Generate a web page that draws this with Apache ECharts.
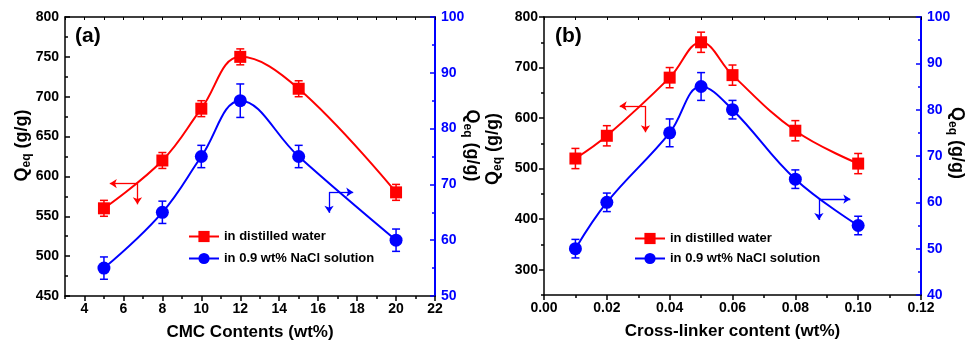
<!DOCTYPE html>
<html>
<head>
<meta charset="utf-8">
<script src="https://cdn.jsdelivr.net/npm/echarts@6/dist/echarts.min.js"></script>
<style>
  html, body { margin: 0; padding: 0; background: #fff; }
  #chart { width: 968px; height: 346px; }
</style>
</head>
<body>
<div id="chart"></div>
<script>
// (a) CMC content series
const cmcX = [5, 8, 10, 12, 15, 20];
const cmcWater = [560, 620, 685, 750, 710, 580];
const cmcWaterErr = [10, 10, 10, 10, 10, 10];
const cmcSaline = [55, 65, 75, 85, 75, 60];
const cmcSalineErr = [2, 2, 2, 3, 2, 2];
const cmcTicks = [4, 6, 8, 10, 12, 14, 16, 18, 20, 22];

// (b) cross-linker series
const clX = [0.01, 0.02, 0.04, 0.05, 0.06, 0.08, 0.10];
const clWater = [520, 565, 680, 750, 685, 575, 510];
const clWaterErr = [20, 20, 20, 20, 20, 20, 20];
const clSaline = [50, 60, 75, 85, 80, 65, 55];
const clSalineErr = [2, 2, 3, 3, 2, 2, 2];
const clLeftTicks = [300, 400, 500, 600, 700, 800];

// axis pointer arrows: [x0, y0, xEnd (horizontal), yEnd (vertical)]
const cmcWaterArrow = [6.72, 591, 5.3, 565];
const cmcSalineArrow = [16.56, 68.6, 17.8, 64.9];
const clWaterArrow = [0.0323, 624, 0.0241, 572];
const clSalineArrow = [0.0875, 60.7, 0.0975, 56.2];

const names = ['in distilled water', 'in 0.9 wt% NaCl solution'];
const RED = '#ff0000';
const BLUE = '#0000ff';
const FONT = '"Liberation Sans", Arial, Helvetica, sans-serif';

const pts = (xs, ys) => xs.map((x, i) => [x, ys[i]]);
const bars = (xs, ys, es) => xs.map((x, i) => [x, ys[i] - es[i], ys[i] + es[i]]);

function errorBar(params, api) {
  const x = api.value(0);
  const lo = api.coord([x, api.value(1)]);
  const hi = api.coord([x, api.value(2)]);
  const w = 4;
  const style = { stroke: api.visual('color'), lineWidth: 1.5 };
  return {
    type: 'group',
    children: [
      { type: 'line', shape: { x1: hi[0], y1: hi[1], x2: lo[0], y2: lo[1] }, style },
      { type: 'line', shape: { x1: hi[0] - w, y1: hi[1], x2: hi[0] + w, y2: hi[1] }, style },
      { type: 'line', shape: { x1: lo[0] - w, y1: lo[1], x2: lo[0] + w, y2: lo[1] }, style }
    ]
  };
}

function arrows(a, color) {
  return {
    silent: true,
    symbol: ['none', 'arrow'],
    symbolSize: 7,
    label: { show: false },
    lineStyle: { color: color, width: 1.3, type: 'solid' },
    data: [
      [{ coord: [a[0], a[1]] }, { coord: [a[2], a[1]] }],
      [{ coord: [a[0], a[1]] }, { coord: [a[0], a[3]] }]
    ]
  };
}

const tickLabel = { fontFamily: FONT, fontWeight: 'bold', fontSize: 14, color: '#000' };
const blackLine = { show: true, lineStyle: { color: '#000', width: 1.5 } };
const nameRich = (color) => ({
  q: { fontFamily: FONT, fontWeight: 'bold', fontSize: 18, color: color, lineHeight: 22 },
  sub: { fontFamily: FONT, fontWeight: 'bold', fontSize: 12, color: color, lineHeight: 22, verticalAlign: 'bottom', padding: [7, 0, 0, 0] }
});
const qName = '{q|Q}{sub|eq}{q| (g/g)}';

function lineSeries(name, data, xi, yi, symbol, color, arrow) {
  return {
    name: name, type: 'line', xAxisIndex: xi, yAxisIndex: yi,
    data: data, smooth: 0.4, symbol: symbol, symbolSize: symbol === 'rect' ? 12 : 13,
    itemStyle: { color: color }, lineStyle: { color: color, width: 2 },
    z: 5, animation: false,
    markLine: arrows(arrow, color)
  };
}

function errSeries(data, xi, yi, color) {
  return {
    type: 'custom', xAxisIndex: xi, yAxisIndex: yi, data: data,
    renderItem: errorBar, itemStyle: { color: color },
    encode: { x: 0, y: [1, 2] }, z: 3, animation: false, silent: true
  };
}

const chart = echarts.init(document.getElementById('chart'), null, { renderer: 'canvas' });

chart.setOption({
  animation: false,
  backgroundColor: '#fff',
  title: [
    { text: '(a)', left: 75, top: 26, padding: 0, textStyle: { fontFamily: FONT, fontWeight: 'bold', fontSize: 21, color: '#000' } },
    { text: '(b)', left: 555, top: 26, padding: 0, textStyle: { fontFamily: FONT, fontWeight: 'bold', fontSize: 21, color: '#000' } }
  ],
  legend: [
    { data: names, orient: 'vertical', left: 188, top: 230, padding: 0, itemWidth: 30, itemHeight: 14, itemGap: 9,
      textStyle: { fontFamily: FONT, fontWeight: 'bold', fontSize: 13, color: '#000' } },
    { data: names, orient: 'vertical', left: 634, top: 232, padding: 0, itemWidth: 30, itemHeight: 14, itemGap: 7,
      textStyle: { fontFamily: FONT, fontWeight: 'bold', fontSize: 13, color: '#000' } }
  ],
  grid: [
    { left: 65, top: 17, width: 370, height: 280, containLabel: false },
    { left: 544, top: 17, width: 377, height: 278, containLabel: false }
  ],
  xAxis: [
    { gridIndex: 0, type: 'value', position: 'bottom', min: 3, max: 22,
      name: 'CMC Contents (wt%)', nameLocation: 'middle', nameGap: 28,
      nameTextStyle: { fontFamily: FONT, fontWeight: 'bold', fontSize: 17, color: '#000' },
      axisLine: blackLine, splitLine: { show: false },
      axisTick: { show: true, length: 5, inside: false, customValues: cmcTicks, lineStyle: { color: '#000', width: 1.5 } },
      axisLabel: Object.assign({ customValues: cmcTicks, margin: 6 }, tickLabel) },
    { gridIndex: 0, type: 'value', position: 'bottom', min: 3, max: 22, interval: 1,
      axisLine: { show: false }, splitLine: { show: false }, axisLabel: { show: false },
      axisTick: { show: true, length: 3, inside: false, lineStyle: { color: '#000', width: 1.5 } } },
    { gridIndex: 0, type: 'value', position: 'top', min: 3, max: 22, interval: 1,
      axisLine: blackLine, splitLine: { show: false }, axisLabel: { show: false },
      axisTick: { show: true, length: 3, inside: true, lineStyle: { color: '#000', width: 1 } } },
    { gridIndex: 1, type: 'value', position: 'bottom', min: 0, max: 0.12, interval: 0.02,
      name: 'Cross-linker content (wt%)', nameLocation: 'middle', nameGap: 28,
      nameTextStyle: { fontFamily: FONT, fontWeight: 'bold', fontSize: 17, color: '#000' },
      axisLine: blackLine, splitLine: { show: false },
      axisTick: { show: true, length: 5, inside: false, lineStyle: { color: '#000', width: 1.5 } },
      minorTick: { show: true, splitNumber: 2, length: 3, lineStyle: { color: '#000', width: 1.5 } },
      axisLabel: Object.assign({ margin: 6, formatter: v => v.toFixed(2) }, tickLabel) },
    { gridIndex: 1, type: 'value', position: 'top', min: 0, max: 0.12, interval: 0.01,
      axisLine: blackLine, splitLine: { show: false }, axisLabel: { show: false },
      axisTick: { show: true, length: 3, inside: true, lineStyle: { color: '#000', width: 1 } } }
  ],
  yAxis: [
    { gridIndex: 0, type: 'value', position: 'left', min: 450, max: 800, interval: 50,
      name: qName, nameLocation: 'middle', nameGap: 32, nameMoveOverlap: false,
      nameTextStyle: { rich: nameRich('#000'), padding: [0, 0, 0, 22] },
      axisLine: blackLine, splitLine: { show: false },
      axisTick: { show: true, length: 5, inside: true, lineStyle: { color: '#000', width: 1.5 } },
      minorTick: { show: true, splitNumber: 2, length: 3, lineStyle: { color: '#000', width: 1.5 } },
      axisLabel: Object.assign({ margin: 6 }, tickLabel) },
    { gridIndex: 0, type: 'value', position: 'right', min: 50, max: 100, interval: 10,
      name: qName, nameLocation: 'middle', nameGap: 26, nameRotate: -90, nameMoveOverlap: false,
      nameTextStyle: { rich: nameRich('#000'), padding: [0, 22, 0, 0] },
      axisLine: { show: true, lineStyle: { color: BLUE, width: 2 } }, splitLine: { show: false },
      axisTick: { show: true, length: 5, inside: true, lineStyle: { color: BLUE, width: 1.5 } },
      minorTick: { show: true, splitNumber: 2, length: 3, lineStyle: { color: BLUE, width: 1.5 } },
      axisLabel: Object.assign({}, tickLabel, { color: BLUE, margin: 6 }) },
    { gridIndex: 1, type: 'value', position: 'left', min: 250, max: 800,
      name: qName, nameLocation: 'middle', nameGap: 40, nameMoveOverlap: false,
      nameTextStyle: { rich: nameRich('#000'), padding: [0, 0, 0, 14] },
      axisLine: blackLine, splitLine: { show: false },
      axisTick: { show: true, length: 5, inside: false, customValues: clLeftTicks, lineStyle: { color: '#000', width: 1.5 } },
      axisLabel: Object.assign({ customValues: clLeftTicks, margin: 6 }, tickLabel) },
    { gridIndex: 1, type: 'value', position: 'left', min: 250, max: 800, interval: 50,
      axisLine: { show: false }, splitLine: { show: false }, axisLabel: { show: false },
      axisTick: { show: true, length: 3, inside: false, lineStyle: { color: '#000', width: 1.5 } } },
    { gridIndex: 1, type: 'value', position: 'right', min: 40, max: 100, interval: 10,
      name: qName, nameLocation: 'middle', nameGap: 25, nameRotate: -90, nameMoveOverlap: false,
      nameTextStyle: { rich: nameRich('#000'), padding: [0, 26, 0, 0] },
      axisLine: { show: true, lineStyle: { color: BLUE, width: 2 } }, splitLine: { show: false },
      axisTick: { show: true, length: 5, inside: true, lineStyle: { color: BLUE, width: 1.5 } },
      minorTick: { show: true, splitNumber: 2, length: 3, lineStyle: { color: BLUE, width: 1.5 } },
      axisLabel: Object.assign({}, tickLabel, { color: BLUE, margin: 6 }) }
  ],
  series: [
    errSeries(bars(cmcX, cmcWater, cmcWaterErr), 0, 0, RED),
    errSeries(bars(cmcX, cmcSaline, cmcSalineErr), 0, 1, BLUE),
    lineSeries(names[0], pts(cmcX, cmcWater), 0, 0, 'rect', RED, cmcWaterArrow),
    lineSeries(names[1], pts(cmcX, cmcSaline), 0, 1, 'circle', BLUE, cmcSalineArrow),
    errSeries(bars(clX, clWater, clWaterErr), 3, 2, RED),
    errSeries(bars(clX, clSaline, clSalineErr), 3, 4, BLUE),
    lineSeries(names[0], pts(clX, clWater), 3, 2, 'rect', RED, clWaterArrow),
    lineSeries(names[1], pts(clX, clSaline), 3, 4, 'circle', BLUE, clSalineArrow)
  ]
});
</script>
</body>
</html>
